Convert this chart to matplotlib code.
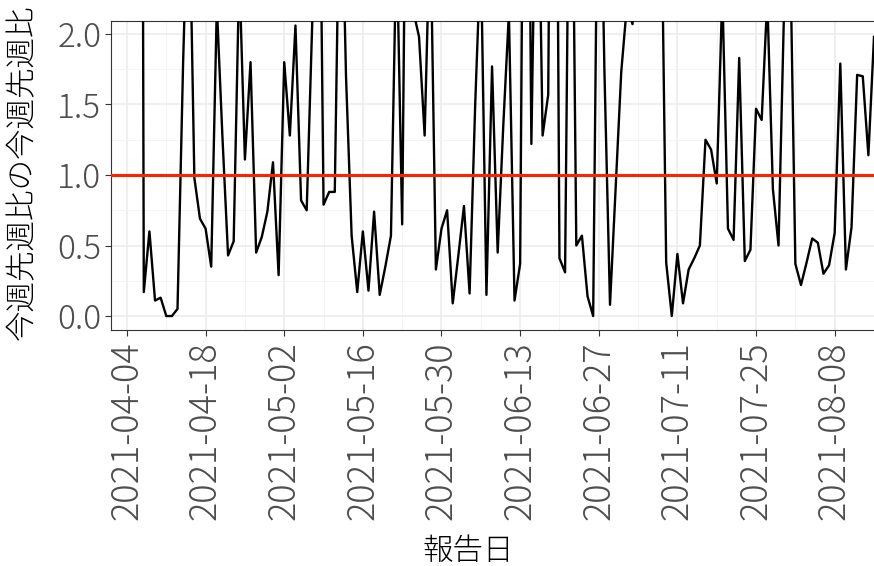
import matplotlib
matplotlib.use('Agg')
import matplotlib.pyplot as plt
import matplotlib.dates as mdates
import pandas as pd

plt.rcParams['font.family'] = ['Noto Sans CJK JP', 'DejaVu Sans']

# daily values from 2021-04-06 on (values above 2.1 run off the panel)
start_date = '2021-04-06'
ratio = [15.0, 0.17, 0.60, 0.11, 0.13, 0.0, 0.0, 0.05, 1.80, 3.20,
         0.98, 0.69, 0.62, 0.35, 2.20, 1.27, 0.43, 0.53, 2.45, 1.11,
         1.80, 0.45, 0.56, 0.74, 1.09, 0.29, 1.80, 1.28, 2.06, 0.82,
         0.75, 2.10, 4.50, 0.79, 0.88, 0.88, 3.50, 1.70, 0.57, 0.17,
         0.60, 0.18, 0.74, 0.15, 0.35, 0.57, 2.70, 0.65, 4.80, 2.16,
         1.98, 1.28, 2.85, 0.33, 0.62, 0.75, 0.09, 0.43, 0.78, 0.16,
         1.50, 2.60, 0.15, 1.77, 0.45, 1.35, 2.15, 0.11, 0.37, 6.00,
         1.22, 3.80, 1.28, 1.57, 7.00, 0.41, 0.31, 4.50, 0.50, 0.57,
         0.14, 0.0, 4.00, 1.75, 0.08, 0.91, 1.73, 2.20, 2.07, 3.00,
         4.50, 2.60, 5.00, 3.40, 0.38, 0.0, 0.44, 0.09, 0.33, 0.41,
         0.50, 1.25, 1.18, 0.94, 2.30, 0.62, 0.54, 1.83, 0.39, 0.47,
         1.47, 1.39, 2.25, 0.90, 0.50, 2.20, 2.80, 0.37, 0.22, 0.38,
         0.55, 0.52, 0.30, 0.36, 0.59, 1.79, 0.33, 0.63, 1.71, 1.70,
         1.14, 1.98]
dates = pd.date_range(start_date, periods=len(ratio), freq='D')

tick_labels = ['2021-04-04', '2021-04-18', '2021-05-02', '2021-05-16',
               '2021-05-30', '2021-06-13', '2021-06-27', '2021-07-11',
               '2021-07-25', '2021-08-08']
minor_labels = ['2021-04-11', '2021-04-25', '2021-05-09', '2021-05-23',
                '2021-06-06', '2021-06-20', '2021-07-04', '2021-07-18',
                '2021-08-01', '2021-08-15']
y_ticks = [0.0, 0.5, 1.0, 1.5, 2.0]
y_minor = [0.25, 0.75, 1.25, 1.75]
ref_level = 1.0

fig = plt.figure(figsize=(8.74, 5.66), dpi=100)
ax = fig.add_axes([111 / 874, 1 - 330 / 566, 763 / 874, 309 / 566])

ax.plot(dates, ratio, color='black', lw=1.7, zorder=3)
ax.axhline(ref_level, color='#FF2200', lw=2.2, zorder=4)

t0 = pd.Timestamp('2021-04-04')
ax.set_xlim(t0 - pd.Timedelta(days=2.84), t0 + pd.Timedelta(days=132.75))
ax.set_ylim(-0.099, 2.092)

ax.set_xticks(pd.to_datetime(tick_labels))
ax.set_xticks(pd.to_datetime(minor_labels), minor=True)
ax.xaxis.set_major_formatter(mdates.DateFormatter('%Y-%m-%d'))
ax.set_yticks(y_ticks)
ax.set_yticks(y_minor, minor=True)
ax.set_yticklabels(['0.0', '0.5', '1.0', '1.5', '2.0'])

ax.grid(True, which='major', color='#EBEBEB', lw=1.1, zorder=0)
ax.grid(True, which='minor', color='#F2F2F2', lw=0.6, zorder=0)
ax.set_axisbelow(True)

for s in ['top', 'left', 'bottom']:
    ax.spines[s].set_color('#333333')
    ax.spines[s].set_linewidth(0.8)
ax.spines['right'].set_visible(False)

ax.tick_params(axis='both', which='major', color='#333333', length=4,
               width=0.8, labelcolor='#4D4D4D')
ax.tick_params(axis='both', which='minor', length=0)
ax.tick_params(axis='x', labelrotation=90, pad=4, labelsize=26)
ax.tick_params(axis='y', pad=3, labelsize=24)
for lab in ax.get_xticklabels() + ax.get_yticklabels():
    lab.set_fontweight('light')

ax.set_xlabel('報告日', fontsize=22, fontweight='light')
ax.set_ylabel('今週先週比の今週先週比', fontsize=22, fontweight='light')
ax.xaxis.set_label_coords((468 - 111) / 763, (330 - 535) / 309)
ax.yaxis.set_label_coords((38 - 111) / 763, (330 - 172) / 309)

fig.savefig('out.png', dpi=100)
